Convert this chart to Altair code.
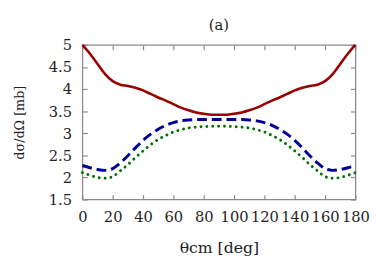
import altair as alt
import pandas as pd

angles = list(range(0, 181, 5))
red = [5.00, 4.80, 4.57, 4.34, 4.18, 4.10, 4.07, 4.03, 3.97, 3.89, 3.81, 3.74, 3.66, 3.58, 3.52, 3.47, 3.44, 3.42, 3.42,
       3.42, 3.44, 3.47, 3.52, 3.58, 3.66, 3.74, 3.81, 3.89, 3.97, 4.03, 4.07, 4.10, 4.18, 4.34, 4.57, 4.80, 5.00]
blue = [2.27, 2.22, 2.18, 2.16, 2.20, 2.33, 2.49, 2.67, 2.84, 2.98, 3.09, 3.18, 3.24, 3.28, 3.30, 3.31, 3.31, 3.31, 3.31,
        3.31, 3.31, 3.31, 3.30, 3.28, 3.24, 3.18, 3.09, 2.98, 2.84, 2.67, 2.49, 2.33, 2.20, 2.16, 2.18, 2.22, 2.27]
green = [2.11, 2.05, 2.00, 1.98, 2.02, 2.15, 2.29, 2.45, 2.60, 2.74, 2.86, 2.95, 3.03, 3.08, 3.12, 3.14, 3.15, 3.16, 3.16,
         3.16, 3.15, 3.14, 3.12, 3.08, 3.03, 2.95, 2.86, 2.74, 2.60, 2.45, 2.29, 2.15, 2.02, 1.98, 2.00, 2.05, 2.11]
series_names = ["red", "blue", "green"]
x_ticks = list(range(0, 181, 20))
y_ticks = [1.5, 2, 2.5, 3, 3.5, 4, 4.5, 5]

rows = []
for name, vals in zip(series_names, [red, blue, green]):
    for a, v in zip(angles, vals):
        rows.append({"theta": a, "sigma": v, "series": name})
df = pd.DataFrame(rows)

FONT = "'DejaVu Serif'"
GRAY = "#8a8a8a"

xscale = alt.Scale(domain=[0, 180], nice=False)
yscale = alt.Scale(domain=[1.5, 5], nice=False)

x_main = alt.X("theta:Q", scale=xscale, axis=alt.Axis(
    values=x_ticks, title="θcm [deg]", offset=-5, tickSize=5, domain=False, grid=False,
    tickColor=GRAY, tickWidth=1.2, labelPadding=10, labelFont=FONT, labelFontSize=15,
    labelColor="#222", titleColor="#222",
    titleFont=FONT, titleFontSize=16, titleFontWeight="normal", titlePadding=16, labelFlush=False))
y_main = alt.Y("sigma:Q", scale=yscale, axis=alt.Axis(
    values=y_ticks, title="dσ/dΩ [mb]", offset=-5, tickSize=5, domain=False, grid=False,
    tickColor=GRAY, tickWidth=1.2, labelPadding=11, labelFont=FONT, labelFontSize=15,
    labelColor="#222", titleColor="#222",
    labelExpr="'' + datum.value", titleFont=FONT, titleFontSize=13, titleFontWeight="normal",
    titlePadding=22, labelFlush=False))

def line(name, color, width, dash=None, cap="butt"):
    kw = dict(color=color, strokeWidth=width, interpolate="monotone", strokeCap=cap)
    if dash is not None:
        kw["strokeDash"] = dash
    return alt.Chart(df).transform_filter(alt.datum.series == name).mark_line(**kw).encode(x=x_main, y=y_main)

main = alt.layer(
    line("green", "#007000", 3, [0.01, 6], "round"),
    line("blue", "#000099", 3, [10, 5]),
    line("red", "#990000", 2.6),
)

frame = alt.Chart(df).mark_line(opacity=0).encode(
    x=alt.X("theta:Q", scale=xscale, axis=alt.Axis(
        orient="top", values=x_ticks, labels=False, title="", offset=-5, tickSize=5,
        domain=False, grid=False, tickColor=GRAY, tickWidth=1.2)),
    y=alt.Y("sigma:Q", scale=yscale, axis=alt.Axis(
        orient="right", values=y_ticks, labels=False, title="", offset=-5, tickSize=5,
        domain=False, grid=False, tickColor=GRAY, tickWidth=1.2)),
    detail="series:N",
)

chart = alt.layer(main, frame).resolve_axis(x="independent", y="independent").properties(
    width=279, height=158,
    title=alt.TitleParams("(a)", font=FONT, fontSize=15, fontWeight="normal", offset=5, color="#222"),
    padding={"left": 76, "top": 35, "right": 19, "bottom": 56},
    autosize=alt.AutoSizeParams(type="none"),
).configure_view(stroke=GRAY, strokeWidth=1.3)

chart.save("out.html", embed_options={"renderer": "svg", "actions": False})
